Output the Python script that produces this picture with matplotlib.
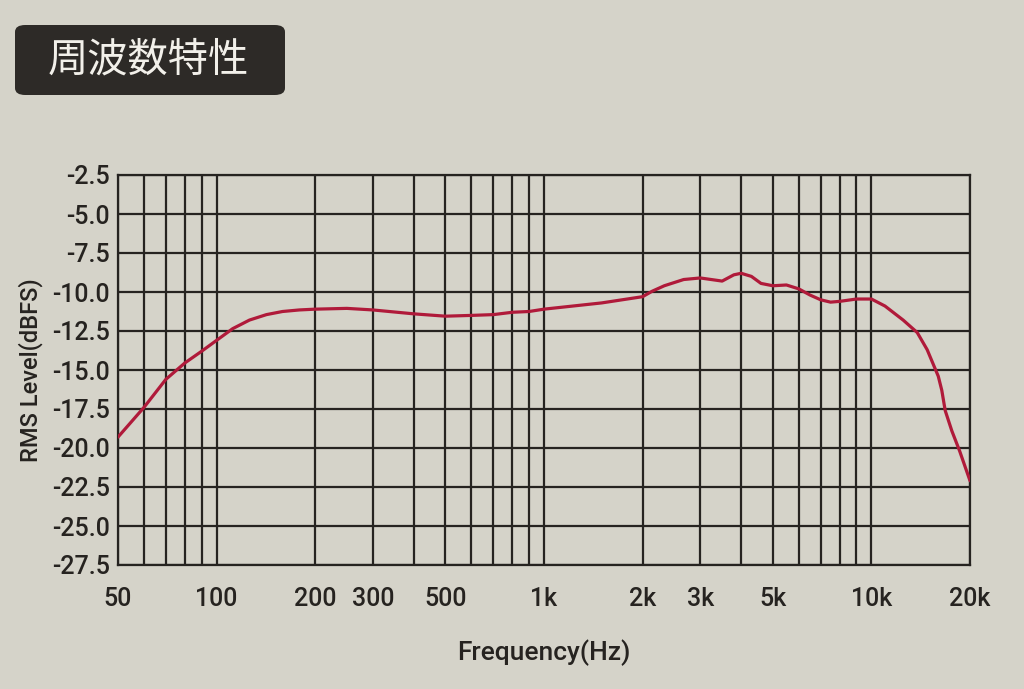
import matplotlib
matplotlib.use('Agg')
import matplotlib.pyplot as plt
from matplotlib.patches import FancyBboxPatch
from matplotlib.ticker import FixedLocator, NullFormatter, NullLocator

# Frequency response values
freq_hz = [50, 60, 70, 80, 90, 100, 112, 126, 142, 159, 179, 200, 250, 300, 400, 500,
           600, 700, 800, 900, 1000, 1500, 2000, 2140, 2330, 2670, 3000, 3500, 3800,
           4000, 4300, 4600, 5000, 5500, 6000, 6500, 7000, 7500, 8000, 9000, 10000,
           11000, 12500, 13800, 14800, 16000, 16400, 16800, 17600, 18600, 20000]
level_dbfs = [-19.3, -17.4, -15.6, -14.55, -13.8, -13.1, -12.35, -11.8, -11.45, -11.25,
              -11.15, -11.1, -11.05, -11.15, -11.4, -11.55, -11.5, -11.45, -11.3, -11.25,
              -11.1, -10.7, -10.3, -9.95, -9.6, -9.2, -9.1, -9.3, -8.9, -8.8, -9.0, -9.45,
              -9.6, -9.55, -9.8, -10.2, -10.5, -10.65, -10.6, -10.45, -10.45, -10.9,
              -11.8, -12.6, -13.7, -15.4, -16.3, -17.6, -18.9, -20.2, -22.1]

grid_freqs = [50, 60, 70, 80, 90, 100, 200, 300, 400, 500, 600, 700, 800, 900, 1000,
              2000, 3000, 4000, 5000, 6000, 7000, 8000, 9000, 10000, 20000]
tick_freqs = [50, 100, 200, 300, 500, 1000, 2000, 3000, 5000, 10000, 20000]
tick_labels = ['50', '100', '200', '300', '500', '1k', '2k', '3k', '5k', '10k', '20k']
y_ticks = [-2.5, -5.0, -7.5, -10.0, -12.5, -15.0, -17.5, -20.0, -22.5, -25.0, -27.5]

paper = '#d5d3c9'
ink = '#262320'

plt.rcParams['font.family'] = ['Roboto', 'DejaVu Sans']

fig = plt.figure(figsize=(10.24, 6.89), dpi=100, facecolor=paper)
ax = fig.add_axes([118 / 1024, 1 - 565 / 689, (970 - 118) / 1024, (565 - 175) / 689])
ax.set_facecolor(paper)

ax.set_xscale('log')
ax.set_xlim(50, 20000)
ax.set_ylim(-27.5, -2.5)

ax.xaxis.set_major_locator(FixedLocator(tick_freqs))
ax.set_xticklabels(tick_labels)
ax.xaxis.set_minor_locator(NullLocator())
ax.xaxis.set_minor_formatter(NullFormatter())
ax.set_yticks(y_ticks)
ax.set_yticklabels([f'{v:.1f}' for v in y_ticks])

for f in grid_freqs:
    ax.axvline(f, color=ink, lw=1.6, zorder=1)
for v in y_ticks:
    ax.axhline(v, color=ink, lw=1.6, zorder=1)
for s in ax.spines.values():
    s.set_color(ink)
    s.set_linewidth(1.6)

ax.plot(freq_hz, level_dbfs, color='#b01a3a', lw=2.3, zorder=3, solid_capstyle='round')

ax.tick_params(axis='both', length=0, colors=ink, labelsize=18, pad=6)
ax.tick_params(axis='x', pad=16)
for lab in ax.get_xticklabels() + ax.get_yticklabels():
    lab.set_fontweight('medium')
ax.set_xlabel('Frequency(Hz)', fontsize=19, color=ink, labelpad=20, fontweight='medium')
ax.set_ylabel('RMS Level(dBFS)', fontsize=17, color=ink, labelpad=6, fontweight='medium')

# Title box
fig.patches.append(FancyBboxPatch((15 / 1024, 1 - 95 / 689), 270 / 1024, 70 / 689,
                                  boxstyle='round,pad=0,rounding_size=0.01',
                                  transform=fig.transFigure, facecolor='#2d2a27',
                                  edgecolor='none'))
fig.text(148 / 1024, 1 - 60 / 689, '周波数特性', color='#f2f0ea', fontsize=29,
         ha='center', va='center', family=['Noto Sans CJK JP', 'DejaVu Sans'])

fig.savefig('out.png', dpi=100, facecolor=paper)
